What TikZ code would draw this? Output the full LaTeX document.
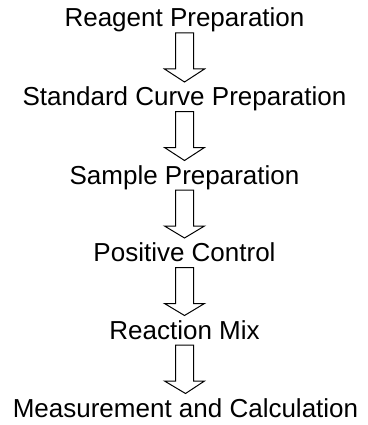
\documentclass[tikz,border=0pt]{standalone}
\usepackage{fontspec}
\setmainfont{Liberation Sans}
\usetikzlibrary{calc}
\tikzset{
  steplabel/.style={inner sep=0pt, anchor=base, font=\fontsize{26pt}{31pt}\selectfont},
  flowarrow/.style={draw=black, line width=1pt, fill=white, line join=miter}
}
\newcommand{\hollowarrow}[2]{%
  \draw[flowarrow]
    ($(#1.base)+(-9pt,-6pt)$) -- ($(#1.base)+(9pt,-6pt)$)
    -- ($(#1.base)+(9pt,-42pt)$) -- ($(#1.base)+(20pt,-42pt)$)
    -- ($(#2.base)+(0pt,23.5pt)$)
    -- ($(#1.base)+(-20pt,-42pt)$) -- ($(#1.base)+(-9pt,-42pt)$) -- cycle;}
\begin{document}
\begin{tikzpicture}[x=1pt,y=1pt]
\useasboundingbox (0,0) rectangle (367,-425);
\node[steplabel] (s1) at (184.5,-27) {Reagent Preparation};
\node[steplabel] (s2) at (184.5,-105.5) {Standard Curve Preparation};
\node[steplabel] (s3) at (184.5,-184) {Sample Preparation};
\node[steplabel] (s4) at (184.5,-261.5) {Positive Control};
\node[steplabel] (s5) at (184.5,-339) {Reaction Mix};
\node[steplabel] (s6) at (185.5,-417) {Measurement and Calculation};
\hollowarrow{s1}{s2}
\hollowarrow{s2}{s3}
\hollowarrow{s3}{s4}
\hollowarrow{s4}{s5}
\hollowarrow{s5}{s6}
\end{tikzpicture}
\end{document}
